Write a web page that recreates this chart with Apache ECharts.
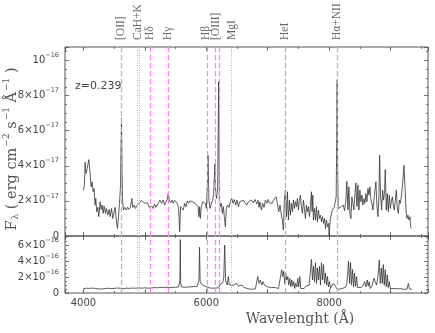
<!DOCTYPE html>
<html>
<head>
<meta charset="utf-8">
<script src="https://cdn.jsdelivr.net/npm/echarts@6/dist/echarts.min.js"></script>
<style>html,body{margin:0;padding:0;background:#fff}#main{width:435px;height:333px}</style>
</head>
<body>
<div id="main"></div>
<script>
// spectrum, top panel (units of 1e-17)
var topWave = [4000,4016,4027,4043,4060,4087,4109,4125,4141,4157,4174,4190,4201,4217,4234,4250,4272,4288,4304,4321,4337,4359,4375,4397,4418,4435,4457,4478,4500,4516,4538,4554,4571,4587,4603,4612,4620,4628,4636,4652,4674,4696,4718,4739,4766,4788,4804,4826,4848,4875,4897,4919,4946,4973,4995,5017,5044,5071,5093,5114,5136,5158,5180,5201,5223,5245,5272,5299,5321,5343,5365,5381,5397,5419,5441,5463,5484,5506,5528,5549,5566,5582,5604,5626,5647,5669,5691,5713,5734,5756,5778,5800,5821,5843,5865,5881,5892,5903,5919,5941,5963,5984,6001,6017,6028,6044,6061,6082,6104,6120,6140,6153,6169,6186,6202,6213,6229,6245,6262,6278,6294,6311,6327,6349,6370,6392,6414,6436,6457,6479,6501,6523,6544,6576,6603,6631,6658,6685,6712,6739,6766,6794,6821,6843,6859,6875,6897,6919,6940,6962,6984,7006,7027,7049,7071,7093,7114,7136,7158,7180,7201,7223,7239,7256,7272,7288,7305,7321,7337,7354,7370,7386,7403,7419,7435,7451,7468,7484,7500,7517,7533,7549,7566,7582,7598,7615,7631,7647,7664,7680,7696,7712,7723,7734,7745,7761,7778,7794,7810,7827,7843,7859,7876,7892,7908,7925,7941,7957,7973,7990,8001,8018,8034,8050,8066,8083,8099,8115,8124,8131,8138,8148,8164,8186,8208,8230,8251,8273,8289,8306,8322,8338,8355,8371,8387,8404,8420,8436,8453,8469,8485,8501,8518,8534,8550,8567,8583,8599,8616,8632,8648,8665,8681,8697,8713,8730,8746,8762,8779,8795,8811,8822,8838,8855,8871,8887,8903,8914,8931,8947,8963,8980,8996,9012,9029,9045,9061,9078,9094,9110,9127,9143,9159,9176,9192,9208,9219,9235,9252,9268,9284,9301,9317,9328,9339];
var topFlux = [2.6,2.9,4.2,3.56,3.84,4.35,3.56,2.8,3.09,2.52,2.71,1.76,2.14,1.38,1.63,1.1,1.95,1.51,1.76,1.29,1.7,1.29,1.57,1.19,1.51,1.1,1.57,1.0,1.38,1.63,0.81,0.43,1.1,1.86,2.8,5.0,6.7,4.0,2.04,1.48,1.63,1.48,1.63,1.51,1.67,2.14,1.63,1.76,1.57,1.76,1.7,1.89,2.04,1.99,1.86,1.76,1.89,1.63,1.57,1.7,1.57,1.82,1.63,1.76,1.67,2.04,1.86,2.04,1.76,1.95,2.08,2.42,2.04,1.89,2.04,1.86,2.04,1.95,1.86,1.63,0.25,1.67,1.76,1.48,1.86,1.67,2.0,1.86,2.0,1.89,1.95,1.89,1.86,1.82,1.67,1.1,1.67,1.0,1.63,1.95,2.04,1.86,1.57,2.8,4.6,2.04,1.57,1.86,2.04,2.42,4.1,2.42,2.14,2.8,8.8,2.04,1.67,1.86,1.29,1.67,1.1,0.53,1.57,1.76,1.63,1.95,2.14,1.86,2.08,1.76,2.04,1.67,1.95,1.86,2.04,1.89,1.76,1.95,1.86,2.04,1.89,2.08,1.82,2.04,1.63,1.95,1.48,1.86,1.63,2.04,1.86,2.08,1.89,2.0,1.86,2.04,2.14,2.23,1.86,1.38,1.76,1.19,0.91,0.34,2.04,2.61,1.1,2.52,0.91,2.04,1.19,1.86,1.38,2.04,1.57,1.95,1.67,2.14,1.48,2.04,2.33,1.67,1.29,2.04,1.57,1.0,1.76,1.38,1.67,1.1,1.76,2.52,1.38,2.33,0.91,1.57,0.91,1.67,0.81,1.48,1.0,1.19,0.81,1.1,0.72,1.0,0.43,0.91,0.53,0.72,0.0,0.91,1.19,1.48,1.38,1.63,1.57,2.23,5.5,8.9,4.0,1.57,1.51,1.63,1.57,1.76,1.44,2.04,3.12,1.48,2.8,1.29,1.0,2.23,1.86,1.48,2.42,3.03,1.67,2.9,1.48,2.61,1.95,2.33,1.76,2.14,1.86,2.42,1.95,2.71,2.33,2.8,2.04,1.86,1.48,2.04,2.61,3.09,1.67,1.1,2.23,4.6,2.23,1.48,2.61,2.04,2.52,3.79,1.48,2.42,1.38,2.33,1.57,1.95,2.23,1.76,1.48,2.04,2.61,1.57,1.29,2.04,1.86,2.23,2.8,3.47,4.03,2.8,1.48,1.0,1.19,0.91,1.1,0.53,0.43];

// spectrum, bottom panel (units of 1e-16)
var botWave = [4000,4050,4100,4150,4200,4250,4300,4350,4400,4450,4500,4550,4600,4650,4700,4750,4800,4850,4900,4950,5000,5050,5100,5150,5200,5250,5300,5350,5400,5450,5500,5550,5570,5577,5584,5600,5650,5700,5750,5800,5850,5880,5890,5900,5920,5950,5980,6000,6050,6100,6150,6200,6230,6250,6270,6285,6300,6315,6340,6360,6375,6400,6441,6470,6495,6520,6550,6580,6610,6631,6700,6740,6800,6821,6838,6859,6881,6903,6925,6946,6968,6990,7022,7066,7120,7175,7207,7229,7245,7262,7278,7294,7311,7327,7343,7360,7376,7392,7408,7425,7441,7457,7474,7490,7506,7523,7539,7566,7593,7621,7648,7675,7697,7713,7729,7746,7762,7778,7795,7811,7827,7843,7860,7876,7892,7909,7925,7941,7958,7974,7990,8007,8023,8045,8066,8088,8110,8132,8164,8208,8262,8289,8317,8333,8349,8365,8382,8398,8414,8431,8447,8463,8490,8523,8556,8578,8599,8621,8637,8654,8670,8697,8730,8752,8773,8795,8817,8833,8849,8866,8882,8898,8914,8931,8947,8963,8980,8996,9023,9056,9088,9121,9165,9214,9268,9290,9306,9328,9349];
var botFlux = [0.55,0.6,0.58,0.62,0.55,0.52,0.5,0.55,0.6,0.55,0.58,0.62,0.6,0.55,0.6,0.58,0.62,0.6,0.65,0.6,0.65,0.6,0.62,0.68,0.65,0.7,0.68,0.72,0.68,0.7,0.72,0.75,1.5,6.7,1.2,0.75,0.72,0.75,0.78,0.8,0.85,1.5,5.75,1.5,1.1,1.0,0.85,0.75,0.65,0.6,0.62,0.65,1.1,0.9,1.3,2.0,6.0,1.5,1.0,2.06,1.0,0.8,0.99,0.8,1.2,0.85,0.9,1.0,0.7,0.56,0.5,0.47,0.52,0.56,2.06,1.2,1.63,0.99,1.42,0.99,1.12,0.77,0.86,0.69,0.69,0.56,0.77,2.93,2.06,2.71,1.2,2.5,1.63,2.06,0.99,1.85,0.77,1.63,0.86,1.42,0.56,1.2,0.77,1.85,0.77,2.06,0.56,0.77,0.56,0.86,0.77,0.99,1.2,4.22,1.63,3.35,1.42,3.79,1.2,3.14,1.63,3.35,0.99,3.79,1.63,3.57,1.2,2.5,0.99,2.06,0.77,1.42,0.56,0.77,1.2,0.99,0.77,0.43,0.47,0.56,0.69,1.2,4.0,1.2,3.79,0.99,2.93,0.77,2.5,0.86,2.06,0.69,0.77,0.69,0.99,1.42,0.77,1.63,0.86,1.42,0.56,0.86,1.85,1.42,0.99,2.06,4.13,1.2,3.14,1.2,3.57,0.99,2.93,0.77,2.28,0.69,1.42,0.56,0.77,0.56,0.69,0.52,0.56,0.47,0.47,1.2,0.56,0.43,0.43];

// line identifications (observed wavelength, z=0.239)
var emissionLines = [4618, 5081, 5378, 6023, 6144, 6204, 7280, 8131];
var absorptionLines = [4874, 4917, 6412];
var lineNames = ['[OII]', 'CaH+K', 'Hδ', 'Hγ', 'Hβ', '[OIII]', 'MgI', 'HeI', 'Hα+NII'];
var lineLabelPos = [4618, 4892, 5081, 5378, 6000, 6152, 6419, 7280, 8131];

var TOP_MAX = 10.77, BOT_MAX = 7.15;
var XMIN = 3700, XMAX = 9610;
var ink = '#444';

function zip(a, b) {
	var out = [];
	for (var i = 0; i < a.length; i++) out.push([a[i], b[i]]);
	return out;
}

var marks = [];
emissionLines.forEach(function (w) {
	marks.push({ xAxis: w, lineStyle: { color: '#ff7cff', type: [5, 3], width: 1.2 } });
});
absorptionLines.forEach(function (w) {
	marks.push({ xAxis: w, lineStyle: { color: '#30e8f2', type: [1, 1.5], width: 1 } });
});
var markLine = { silent: true, symbol: ['none', 'none'], label: { show: false }, animation: false, data: marks };

function xAx(grid, pos, step, len, labels) {
	return {
		type: 'value', gridIndex: grid, position: pos, min: XMIN, max: XMAX,
		minInterval: step, maxInterval: step,
		axisLine: { show: false },
		axisTick: { inside: true, length: len, lineStyle: { color: '#555', width: 0.8 } },
		splitLine: { show: false },
		axisLabel: labels ? {
			show: true, margin: 5, fontSize: 10, color: ink, fontFamily: 'DejaVu Sans',
			formatter: function (v) { return v % 2000 === 0 ? String(v) : ''; }
		} : { show: false }
	};
}

function yAx(grid, pos, max, exp, labels) {
	return {
		type: 'value', gridIndex: grid, position: pos, min: 0, max: max, interval: 2,
		axisLine: { show: false },
		axisTick: { inside: true, length: 4, lineStyle: { color: '#555', width: 0.8 } },
		minorTick: { show: true, splitNumber: 4, length: 2, lineStyle: { color: '#555', width: 0.8 } },
		splitLine: { show: false },
		axisLabel: labels ? {
			show: true, margin: 6, color: ink,
			formatter: function (v) {
				if (v === 0) return '{n|0}';
				if (v % 2 !== 0) return '';
				if (v === 10) return '{n|10}{e|−16}';
				return '{n|' + v + '×10}{e|−' + exp + '}';
			},
			rich: {
				n: { fontSize: 10, fontFamily: 'DejaVu Sans', color: ink },
				e: { fontSize: 6.5, fontFamily: 'DejaVu Sans', color: ink, padding: [0, 0, 10, 0] }
			}
		} : { show: false }
	};
}

var chart = echarts.init(document.getElementById('main'));
chart.setOption({
	animation: false,
	backgroundColor: '#fff',
	grid: [
		{ left: 65, top: 47, width: 363, height: 189, show: true, borderColor: '#555', borderWidth: 1 },
		{ left: 65, top: 236, width: 363, height: 57, show: true, borderColor: '#555', borderWidth: 1 }
	],
	xAxis: [
		xAx(0, 'bottom', 1000, 4, false),
		xAx(0, 'bottom', 500, 2, false),
		xAx(0, 'top', 1000, 4, false),
		xAx(0, 'top', 500, 2, false),
		xAx(1, 'bottom', 1000, 4, true),
		xAx(1, 'bottom', 500, 2, false),
		xAx(1, 'top', 1000, 4, false),
		xAx(1, 'top', 500, 2, false)
	],
	yAxis: [
		yAx(0, 'left', TOP_MAX, 17, true),
		yAx(0, 'right', TOP_MAX, 17, false),
		yAx(1, 'left', BOT_MAX, 16, true),
		yAx(1, 'right', BOT_MAX, 16, false)
	],
	series: [
		{
			type: 'line', xAxisIndex: 0, yAxisIndex: 0, data: zip(topWave, topFlux),
			showSymbol: false, lineStyle: { color: '#333', width: 0.8 }, markLine: markLine, z: 3
		},
		{
			type: 'line', xAxisIndex: 4, yAxisIndex: 2, data: zip(botWave, botFlux),
			showSymbol: false, lineStyle: { color: '#333', width: 0.8 }, markLine: markLine, z: 3
		},
		{
			type: 'scatter', xAxisIndex: 0, yAxisIndex: 0, symbolSize: 0, clip: false, silent: true,
			data: lineLabelPos.map(function (w, i) { return { value: [w, TOP_MAX], name: lineNames[i] }; }),
			label: {
				show: true, position: 'top', distance: 7, rotate: 90, align: 'left', verticalAlign: 'middle',
				formatter: '{b}', fontSize: 11.5, fontFamily: 'Liberation Serif', color: ink
			}
		}
	],
	graphic: [
		{
			type: 'text', x: 75, y: 86,
			style: { text: 'z=0.239', fontSize: 11, fontFamily: 'DejaVu Sans', fill: ink, verticalAlign: 'middle' }
		},
		{
			type: 'text', x: 300, y: 319,
			style: { text: 'Wavelenght (Å)', fontSize: 14, fontFamily: 'DejaVu Serif', fill: '#555', align: 'center', verticalAlign: 'middle' }
		},
		{
			type: 'text', x: 12, y: 149, rotation: Math.PI / 2,
			style: {
				text: '{t|F}{s|λ}{t| ( erg cm}{e|−2}{t| s}{e|−1}{t| Å}{e|−1}{t| )}',
				align: 'center', verticalAlign: 'middle',
				rich: {
					t: { fontSize: 14.5, fontFamily: 'DejaVu Serif', fill: '#555' },
					s: { fontSize: 9, fontFamily: 'DejaVu Serif', fill: '#555', padding: [8, 0, 0, 1] },
					e: { fontSize: 9, fontFamily: 'DejaVu Serif', fill: '#555', padding: [0, 0, 11, 1] }
				}
			}
		}
	]
});
</script>
</body>
</html>
